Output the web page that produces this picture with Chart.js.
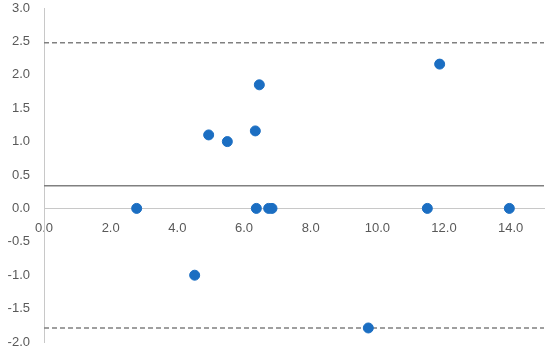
<!DOCTYPE html>
<html><head><meta charset="utf-8">
<script src="https://cdn.jsdelivr.net/npm/chart.js@4"></script>
<style>html,body{margin:0;padding:0;background:#fff}#wrap{width:550px;height:352px}</style>
</head><body><div id="wrap"><canvas id="c"></canvas></div>
<script>
const xValues = [2.78, 4.52, 4.94, 5.5, 6.34, 6.46, 6.37, 6.74, 6.84, 11.5, 13.96, 11.87, 9.73];
const yValues = [0, -1.0, 1.1, 1.0, 1.16, 1.85, 0, 0, 0, 0, 0, 2.16, -1.79];
const meanLine = 0.34;
const upperLimit = 2.48;
const lowerLimit = -1.79;
const xRange = [0, 15];
const yRange = [-2, 3];

const points = xValues.map((x, i) => ({x: x, y: yValues[i]}));
const hline = v => xRange.map(x => ({x: x, y: v}));

new Chart(document.getElementById('c'), {
  type: 'scatter',
  data: {
    datasets: [
      {data: points, backgroundColor: '#1b6ec2', borderColor: '#1b6ec2', pointRadius: 5, pointHoverRadius: 5, order: 0},
      {type: 'line', data: hline(meanLine), borderColor: '#808080', borderWidth: 1.5, pointRadius: 0, order: 1},
      {type: 'line', data: hline(upperLimit), borderColor: '#808080', borderWidth: 1.5, borderDash: [5, 3], pointRadius: 0, order: 1},
      {type: 'line', data: hline(lowerLimit), borderColor: '#808080', borderWidth: 1.5, borderDash: [5, 3], pointRadius: 0, order: 1}
    ]
  },
  options: {
    responsive: true, maintainAspectRatio: false, animation: false,
    layout: {padding: {top: 8, right: 4, bottom: 10, left: 0}},
    plugins: {legend: {display: false}, tooltip: {enabled: false}},
    scales: {
      x: {
        type: 'linear', position: {y: 0}, min: xRange[0], max: xRange[1],
        afterFit: s => { s.height = 0; s.paddingLeft = 0; s.paddingRight = 0; s.paddingTop = 0; s.paddingBottom = 0; },
        grid: {display: false, drawTicks: false},
        border: {display: true, color: '#c8c8c8', width: 1},
        ticks: {stepSize: 2, padding: 12, color: '#595959', font: {family: 'Liberation Sans', size: 13},
          maxRotation: 0, autoSkip: false,
          callback: v => v >= 15 ? '' : v.toFixed(1)}
      },
      y: {
        type: 'linear', min: yRange[0], max: yRange[1],
        afterFit: s => { s.width = 44; s.paddingTop = 0; s.paddingBottom = 0; s.paddingLeft = 0; s.paddingRight = 0; },
        grid: {display: false, drawTicks: false},
        border: {display: true, color: '#c8c8c8', width: 1},
        ticks: {stepSize: 0.5, padding: 14, color: '#595959', font: {family: 'Liberation Sans', size: 13},
          callback: v => v.toFixed(1)}
      }
    }
  }
});
</script></body></html>
